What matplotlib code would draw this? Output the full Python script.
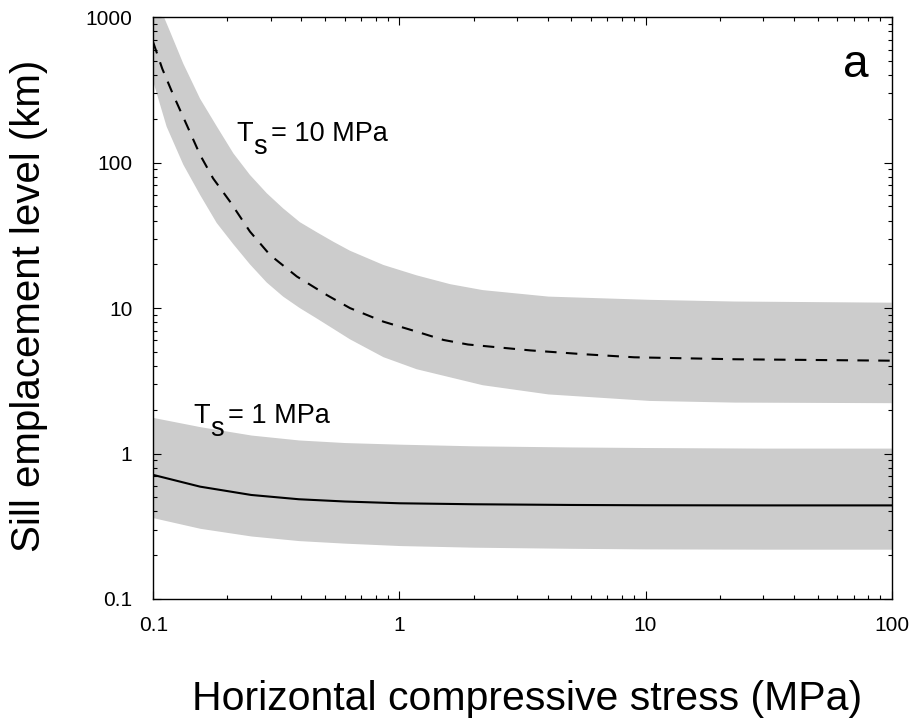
import numpy as np
import matplotlib
matplotlib.use("Agg")
import matplotlib.pyplot as plt
from matplotlib.ticker import FixedLocator, FixedFormatter, LogLocator, NullFormatter

plt.rcParams['font.family'] = ['Liberation Sans', 'DejaVu Sans']

# Ts = 10 MPa: dashed curve and the edges of its grey band
x_ts10 = [0.1, 0.1088, 0.1206, 0.1367, 0.155, 0.175, 0.205, 0.247, 0.298, 0.383,
          0.507, 0.63, 0.861, 1.175, 1.51, 1.9, 3.4, 5.6, 9, 23, 100]
mid_ts10 = [670, 442, 292, 182, 113, 78, 54, 33.6, 23.2, 16.5,
            12.3, 10.0, 8.07, 6.89, 6.04, 5.62, 5.12, 4.82, 4.59, 4.45, 4.35]

x_up_ts10 = [0.1, 0.117, 0.1324, 0.155, 0.181, 0.2115, 0.247, 0.289, 0.337, 0.394,
             0.461, 0.539, 0.63, 0.861, 1.175, 1.61, 2.18, 4.03, 10.4, 23, 100]
up_ts10 = [1500, 797, 480, 275, 178, 116, 82.4, 61.7, 48.5, 39.0,
           33.3, 28.6, 24.8, 19.8, 16.8, 14.6, 13.3, 12.0, 11.4, 11.1, 10.9]

x_lo_ts10 = [0.1, 0.1133, 0.1324, 0.155, 0.181, 0.2115, 0.247, 0.289, 0.337, 0.394,
             0.461, 0.539, 0.63, 0.861, 1.175, 2.18, 4.03, 10.4, 23, 100]
lo_ts10 = [360, 177, 97, 60, 38.5, 27.5, 20.0, 15.0, 12.0, 10.0,
           8.5, 7.2, 6.1, 4.6, 3.8, 2.95, 2.55, 2.3, 2.24, 2.22]

# Ts = 1 MPa: solid curve and its band
x_ts1 = [0.1, 0.155, 0.25, 0.39, 0.6, 1, 2, 5, 10, 30, 100]
mid_ts1 = [0.713, 0.592, 0.519, 0.485, 0.468, 0.455, 0.448, 0.443, 0.441, 0.44, 0.44]
up_ts1 = [1.77, 1.53, 1.34, 1.24, 1.19, 1.16, 1.13, 1.11, 1.10, 1.09, 1.09]
lo_ts1 = [0.362, 0.306, 0.271, 0.252, 0.242, 0.233, 0.227, 0.223, 0.221, 0.22, 0.22]

xticks = [0.1, 1, 10, 100]
xtick_labels = ['0.1', '1', '10', '100']
yticks = [0.1, 1, 10, 100, 1000]
ytick_labels = ['0.1', '1', '10', '100', '1000']

band_color = '#cccccc'

fig = plt.figure(figsize=(9.14, 7.22), dpi=100)
ax = fig.add_axes([0.1677, 0.1704, 0.8079, 0.8057])

# band = upper edge left->right, then lower edge right->left
ax.fill(x_up_ts10 + x_lo_ts10[::-1], up_ts10 + lo_ts10[::-1], color=band_color, lw=0)
ax.fill_between(x_ts1, lo_ts1, up_ts1, color=band_color, lw=0)
ax.plot(x_ts10, mid_ts10, color='black', lw=1.5, dashes=(5.5, 4.5))
ax.plot(x_ts1, mid_ts1, color='black', lw=1.5)

ax.set_xscale('log')
ax.set_yscale('log')
ax.set_xlim(0.1, 100)
ax.set_ylim(0.1, 1000)

ax.xaxis.set_major_locator(FixedLocator(xticks))
ax.xaxis.set_major_formatter(FixedFormatter(xtick_labels))
ax.yaxis.set_major_locator(FixedLocator(yticks))
ax.yaxis.set_major_formatter(FixedFormatter(ytick_labels))
ax.xaxis.set_minor_locator(LogLocator(base=10, subs=np.arange(2, 10)))
ax.yaxis.set_minor_locator(LogLocator(base=10, subs=np.arange(2, 10)))
ax.xaxis.set_minor_formatter(NullFormatter())
ax.yaxis.set_minor_formatter(NullFormatter())

ax.tick_params(which='both', direction='in', top=True, right=True, width=0.8, color='black')
ax.tick_params(which='major', length=5.5, labelsize=15)
ax.tick_params(axis='x', which='major', pad=12)
ax.tick_params(axis='y', which='major', pad=15)
ax.tick_params(which='minor', length=3)
for s in ax.spines.values():
    s.set_linewidth(1.0)

ax.set_xlabel('Horizontal compressive stress (MPa)', fontsize=29.5, va='baseline')
ax.xaxis.set_label_coords(0.506, -0.1908)
ax.set_ylabel('Sill emplacement level (km)', fontsize=29, va='center')
ax.yaxis.set_label_coords(-0.1683, 0.5037)


def ts_label(x, y, value):
    # "T", a full-size lowered "s", then the rest
    ax.text(x, y, 'T', fontsize=19.5, ha='left', va='baseline')
    ax.annotate('s', (x, y), xytext=(12.0, -9.4), textcoords='offset points',
                fontsize=19.5, ha='left', va='baseline')
    ax.annotate('= %s MPa' % value, (x, y), xytext=(25.0, 0), textcoords='offset points',
                fontsize=19.5, ha='left', va='baseline')


ts_label(0.218, 140, '10')
ts_label(0.1454, 1.616, '1')

ax.text(0.934, 0.897, 'a', transform=ax.transAxes, fontsize=33, ha='left', va='baseline')

fig.savefig('out.png', dpi=100)
